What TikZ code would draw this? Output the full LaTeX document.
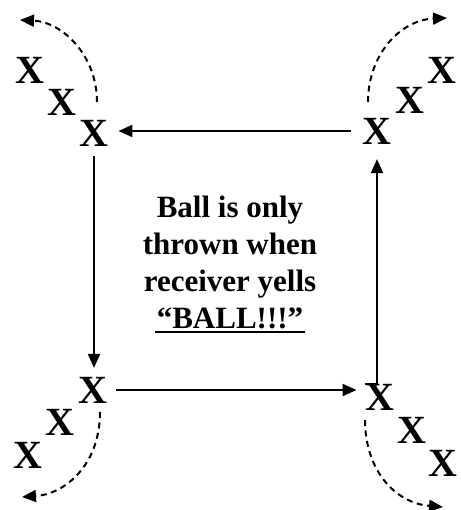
\documentclass[tikz,border=0pt]{standalone}
\usepackage{fontspec}
\setmainfont{Liberation Serif}
\usetikzlibrary{arrows.meta}
\begin{document}
\begin{tikzpicture}[x=1pt,y=-1pt,
  player/.style={font=\fontsize{40}{40}\selectfont\bfseries, inner sep=0pt, outer sep=0pt},
  pass/.style={line width=2pt, -{Triangle[length=14pt,width=12pt]}},
  run/.style={line width=2pt, dash pattern=on 6pt off 4.5pt, -{Triangle[length=14pt,width=12pt]}},
  msg/.style={font=\fontsize{31}{37}\selectfont\bfseries, align=center, inner sep=0pt}]
\useasboundingbox (0,0) rectangle (460,510);
% top-left group
\node[player] (tl) at (94,133) {X};
\node[player] (tl2) at (62,102) {X};
\node[player] (tl3) at (30,70) {X};
% top-right group
\node[player] (tr) at (377,131) {X};
\node[player] (tr2) at (410,100) {X};
\node[player] (tr3) at (442,70) {X};
% bottom-left group
\node[player] (bl) at (93,390) {X};
\node[player] (bl2) at (60,422) {X};
\node[player] (bl3) at (28,455) {X};
% bottom-right group
\node[player] (br) at (380,397) {X};
\node[player] (br2) at (412,430) {X};
\node[player] (br3) at (443,463) {X};
% passes
\draw[pass, shorten <=12pt, shorten >=10pt] (tr.west) -- (tr.west -| tl.east);
\draw[pass, shorten <=10pt, shorten >=9pt] (tl.south) -- (tl.south |- bl.north);
\draw[pass, shorten <=9pt, shorten >=9pt] (bl.east) -- (bl.east -| br.west);
\draw[pass, shorten <=15pt, shorten >=15pt] (br.north) -- (br.north -| tr.south) -- (tr.south);
% runs
\coordinate (tlstart) at (97,102);
\coordinate (trstart) at (368,102);
\coordinate (blstart) at (100,412);
\coordinate (brstart) at (365,420);
\coordinate (tlend) at (20,20);
\coordinate (trend) at (447,18);
\coordinate (blend) at (22,497);
\coordinate (brend) at (443,507);
\draw[run] (tlstart) .. controls (97,55) and (62,22) .. (tlend);
\draw[run] (trstart) .. controls (368,55) and (400,20) .. (trend);
\draw[run] (blstart) .. controls (100,465) and (65,494) .. (blend);
\draw[run] (brstart) .. controls (365,470) and (395,503) .. (brend);
% message
\node[msg] (text) at (230,262) {Ball is only\\thrown when\\receiver yells\\“BALL!!!”};
\draw[line width=2pt] ([xshift=-75pt,yshift=-3.5pt]text.south) -- ([xshift=75pt,yshift=-3.5pt]text.south);
\end{tikzpicture}
\end{document}
